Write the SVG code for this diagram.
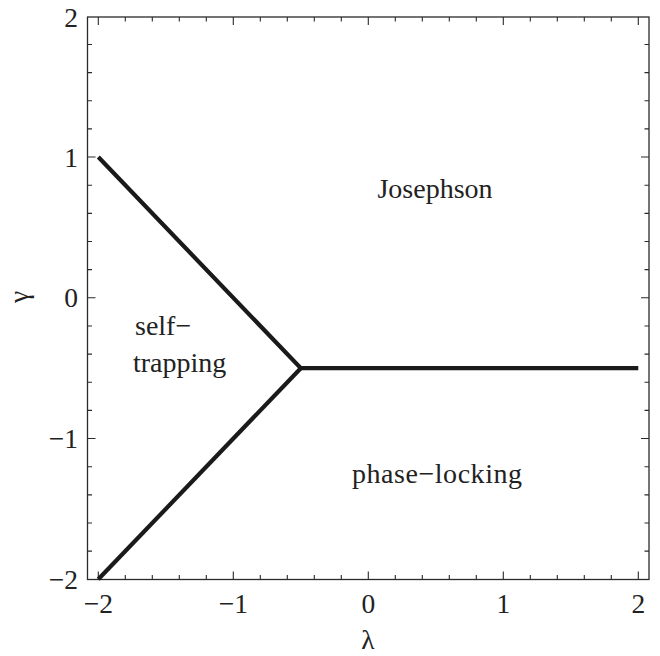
<svg xmlns="http://www.w3.org/2000/svg" width="660" height="656" viewBox="0 0 660 656">
<style>
.frame{fill:none;stroke:#2a2a2a;stroke-width:1.3}
.tick{fill:none;stroke:#2a2a2a;stroke-width:1.1}
.curve{fill:none;stroke:#1a1a1a;stroke-width:4.2;stroke-linejoin:miter;stroke-linecap:butt}
text{font-family:"Liberation Serif","Times New Roman",serif;fill:#222;font-size:27.5px}
.xl{text-anchor:middle}
.yl{text-anchor:end}
.lab{font-size:28px}
</style>
<rect width="660" height="656" fill="#fff"/>
<g id="axes">
<rect class="frame" x="87.5" y="17" width="561.5" height="562.5"/>
<path class="tick" d="M98.3 579.5v-8M125.3 579.5v-4.5M152.3 579.5v-4.5M179.3 579.5v-4.5M206.3 579.5v-4.5M233.3 579.5v-8M260.3 579.5v-4.5M287.3 579.5v-4.5M314.3 579.5v-4.5M341.3 579.5v-4.5M368.3 579.5v-8M395.3 579.5v-4.5M422.3 579.5v-4.5M449.3 579.5v-4.5M476.3 579.5v-4.5M503.3 579.5v-8M530.3 579.5v-4.5M557.3 579.5v-4.5M584.3 579.5v-4.5M611.3 579.5v-4.5M638.3 579.5v-8"/>
<path class="tick" d="M98.3 17v8M125.3 17v4.5M152.3 17v4.5M179.3 17v4.5M206.3 17v4.5M233.3 17v8M260.3 17v4.5M287.3 17v4.5M314.3 17v4.5M341.3 17v4.5M368.3 17v8M395.3 17v4.5M422.3 17v4.5M449.3 17v4.5M476.3 17v4.5M503.3 17v8M530.3 17v4.5M557.3 17v4.5M584.3 17v4.5M611.3 17v4.5M638.3 17v8"/>
<path class="tick" d="M87.5 551.15h4.5M87.5 523h4.5M87.5 494.85h4.5M87.5 466.7h4.5M87.5 438.55h8M87.5 410.4h4.5M87.5 382.25h4.5M87.5 354.1h4.5M87.5 325.95h4.5M87.5 297.8h8M87.5 269.65h4.5M87.5 241.5h4.5M87.5 213.35h4.5M87.5 185.2h4.5M87.5 157.05h8M87.5 128.9h4.5M87.5 100.75h4.5M87.5 72.6h4.5M87.5 44.45h4.5"/>
<path class="tick" d="M649 551.15h-4.5M649 523h-4.5M649 494.85h-4.5M649 466.7h-4.5M649 438.55h-8M649 410.4h-4.5M649 382.25h-4.5M649 354.1h-4.5M649 325.95h-4.5M649 297.8h-8M649 269.65h-4.5M649 241.5h-4.5M649 213.35h-4.5M649 185.2h-4.5M649 157.05h-8M649 128.9h-4.5M649 100.75h-4.5M649 72.6h-4.5M649 44.45h-4.5"/>
<text class="xl" x="98.3" y="613">−2</text>
<text class="xl" x="233.3" y="613">−1</text>
<text class="xl" x="368.3" y="613">0</text>
<text class="xl" x="503.3" y="613">1</text>
<text class="xl" x="638.3" y="613">2</text>
<text class="yl" x="78" y="589">−2</text>
<text class="yl" x="78" y="448">−1</text>
<text class="yl" x="78" y="307">0</text>
<text class="yl" x="78" y="166.5">1</text>
<text class="yl" x="78" y="26.5">2</text>
<text class="xl" x="368" y="649">λ</text>
<text class="xl" transform="translate(28 297) rotate(-90)">γ</text>
</g>
<g id="connectors">
<path class="curve" d="M98.3 157.05L300.8 368.2L638.3 368.2"/>
<path class="curve" d="M300.8 368.2L98.3 579.3"/>
</g>
<g id="josephson"><text class="lab xl" x="435" y="198">Josephson</text></g>
<g id="self-trapping"><text class="lab" x="135" y="335">self−</text><text class="lab" x="133" y="372">trapping</text></g>
<g id="phase-locking"><text class="lab xl" x="437" y="483" textLength="170">phase−locking</text></g>
</svg>
